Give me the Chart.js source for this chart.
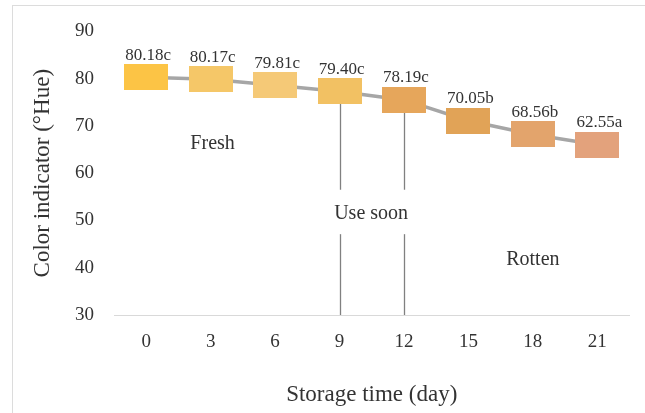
<!DOCTYPE html>
<html>
<head>
<meta charset="utf-8">
<script src="https://cdn.jsdelivr.net/npm/chart.js@4"></script>
<style>
    body { margin: 0; background: #fff; }
    #frame { position: absolute; left: 12px; top: 5px; width: 700px; height: 500px; border: 1px solid #dcdcdc; }
    #wrap { position: absolute; left: 0; top: 0; width: 645px; height: 413px; }
</style>
</head>
<body>
<div id="frame"></div>
<div id="wrap"><canvas id="hueChart"></canvas></div>
<script>
// Storage days and hue readings (marker positions as drawn)
const days = ['0', '3', '6', '9', '12', '15', '18', '21'];
const hueValues = [80.3, 79.9, 78.6, 77.3, 75.5, 71.1, 68.2, 66.0];
const hueLabels = ['80.18c', '80.17c', '79.81c', '79.40c', '78.19c', '70.05b', '68.56b', '62.55a'];
const markerColors = ['#FCC445', '#F5C768', '#F5C977', '#F2C163', '#E6A65B', '#E1A357', '#E3A46C', '#E3A27C'];
const yTicks = [30, 40, 50, 60, 70, 80, 90];

// Zone texts
const zoneLabels = ['Fresh', 'Use soon', 'Rotten'];
const cutoffDays = ['9', '12'];

const serif = '"Liberation Serif", "Times New Roman", serif';

// Rectangular markers (wider than tall)
function makeMarker(color) {
    const c = document.createElement('canvas');
    c.width = 44;
    c.height = 26;
    const ctx = c.getContext('2d');
    ctx.fillStyle = color;
    ctx.fillRect(0, 0, 44, 26);
    return c;
}
const markers = markerColors.map(makeMarker);

// Zone lines and texts, drawn under the series
const zonePlugin = {
    id: 'zones',
    beforeDatasetsDraw(chart) {
        const {ctx, scales: {x, y}} = chart;
        ctx.save();
        ctx.strokeStyle = '#808080';
        ctx.lineWidth = 1.3;
        cutoffDays.forEach(d => {
            const i = days.indexOf(d);
            const px = Math.round(x.getPixelForValue(i)) + 0.5;
            ctx.beginPath();
            ctx.moveTo(px, y.getPixelForValue(hueValues[i]));
            ctx.lineTo(px, y.getPixelForValue(30));
            ctx.stroke();
        });
        // white box behind "Use soon"
        const gx1 = x.getPixelForValue(2.7), gx2 = x.getPixelForValue(4.3);
        const gy1 = y.getPixelForValue(56.5), gy2 = y.getPixelForValue(47.1);
        ctx.fillStyle = '#fff';
        ctx.fillRect(gx1, gy1, gx2 - gx1, gy2 - gy1);

        ctx.fillStyle = '#333';
        ctx.font = '20px ' + serif;
        ctx.textAlign = 'center';
        ctx.textBaseline = 'alphabetic';
        ctx.fillText(zoneLabels[0], x.getPixelForValue(1.03), y.getPixelForValue(65.1));
        ctx.fillText(zoneLabels[1], x.getPixelForValue(3.49), y.getPixelForValue(50.3));
        ctx.fillText(zoneLabels[2], x.getPixelForValue(6.0), y.getPixelForValue(40.5));
        ctx.restore();
    }
};

// Value labels above each marker
const valueLabelPlugin = {
    id: 'valueLabels',
    afterDatasetsDraw(chart) {
        const {ctx} = chart;
        const meta = chart.getDatasetMeta(0);
        ctx.save();
        ctx.fillStyle = '#333';
        ctx.font = '17px ' + serif;
        ctx.textAlign = 'center';
        ctx.textBaseline = 'alphabetic';
        meta.data.forEach((pt, i) => {
            ctx.fillText(hueLabels[i], pt.x + 2, pt.y - 13 - 4.5);
        });
        ctx.restore();
    }
};

const chart = new Chart(document.getElementById('hueChart'), {
    type: 'line',
    data: {
        labels: days,
        datasets: [{
            data: hueValues,
            borderColor: '#A6A6A6',
            borderWidth: 3.5,
            tension: 0,
            pointStyle: markers,
            pointRadius: 12,
            pointHoverRadius: 12
        }]
    },
    options: {
        responsive: true,
        maintainAspectRatio: false,
        animation: false,
        layout: {
            padding: {left: 0, top: 28, right: 10, bottom: 0}
        },
        plugins: {
            legend: {display: false},
            tooltip: {enabled: false}
        },
        scales: {
            x: {
                offset: true,
                grid: {display: false, drawTicks: false},
                border: {display: true, color: '#d9d9d9', width: 1},
                ticks: {
                    color: '#333',
                    font: {family: serif, size: 19},
                    padding: 16,
                    maxRotation: 0
                },
                title: {
                    display: true,
                    text: 'Storage time (day)',
                    color: '#333',
                    font: {family: serif, size: 23},
                    padding: {top: 0, bottom: 4}
                },
                afterFit: (s) => { s.height = 98; }
            },
            y: {
                min: yTicks[0],
                max: yTicks[yTicks.length - 1],
                grid: {display: false, drawTicks: false},
                border: {display: false},
                afterBuildTicks: (s) => { s.ticks = yTicks.map(v => ({value: v})); },
                ticks: {
                    color: '#333',
                    font: {family: serif, size: 19},
                    padding: 20
                },
                title: {
                    display: true,
                    text: 'Color indicator (°Hue)',
                    color: '#333',
                    font: {family: serif, size: 23},
                    padding: {top: 29, bottom: 0}
                },
                afterFit: (s) => { s.width = 114; }
            }
        }
    },
    plugins: [zonePlugin, valueLabelPlugin]
});
</script>
</body>
</html>
